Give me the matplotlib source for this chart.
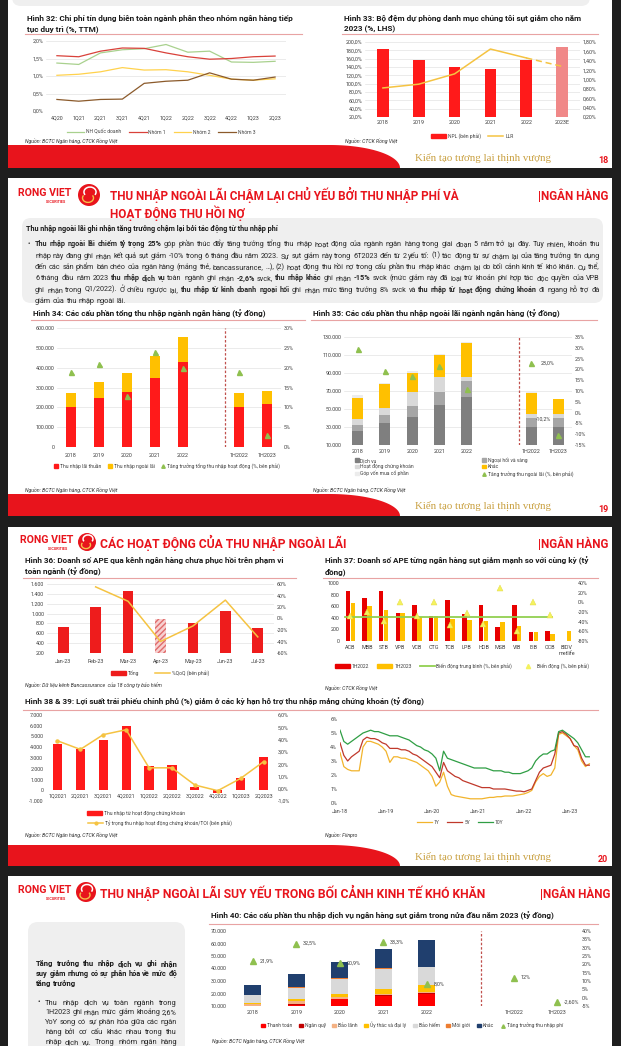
import numpy as np
import matplotlib
matplotlib.use('Agg')
import matplotlib.pyplot as plt
from matplotlib.patches import Rectangle, FancyBboxPatch, Circle, Polygon, Patch, Arc
from matplotlib.lines import Line2D

# ---------------- data ----------------
# Hinh 32
q32 = ['4Q20', '1Q21', '2Q21', '3Q21', '4Q21', '1Q22', '2Q22', '3Q22', '4Q22', '1Q23', '2Q23']
quoc_doanh = [1.37, 1.33, 1.66, 1.75, 1.78, 1.90, 1.68, 1.71, 1.40, 1.39, 1.42]
nhom1 = [1.58, 1.55, 1.71, 1.80, 1.79, 1.66, 1.55, 1.48, 1.50, 1.55, 1.57]
nhom2 = [1.02, 1.05, 1.12, 1.24, 1.17, 1.18, 1.12, 1.02, 0.91, 0.88, 0.92]
nhom3 = [0.33, 0.28, 0.33, 0.34, 0.79, 0.85, 0.88, 1.09, 0.91, 0.88, 0.97]

# Hinh 33
years33 = ['2018', '2019', '2020', '2021', '2022', '2023E']
npl = [184, 156, 141, 136, 157, 187]
llr = [0.82, 0.90, 1.12, 1.65, 1.46, 1.28]

# Hinh 34
cat34 = ['2018', '2019', '2020', '2021', '2022', '1H2022', '1H2023']
lai_thuan = [202000, 247000, 277000, 346000, 428000, 202000, 217000]
ngoai_lai = [69000, 82000, 96000, 114000, 125000, 69000, 64000]
tang_truong_toi = [18.9, 20.9, 12.8, 23.9, 19.9, 18.9, 2.9]

# Hinh 35
dich_vu = [26000, 34000, 41500, 55000, 63000, 30000, 30000]
ngoai_hoi = [6000, 9000, 12000, 13500, 18500, 10500, 10500]
chung_khoan = [6500, 8500, 15500, 17000, 4500, 4500, 4500]
khac = [23500, 26000, 21500, 24000, 37000, 23000, 16000]
gop_von = [4000, 1000, 1500, 2000, 1000, 500, 500]
tang_truong_nl = [29.3, 19.3, 16.8, 21.5, 10.8, 23.0, -10.2]

# Hinh 36
months36 = ['Jan-23', 'Feb-23', 'Mar-23', 'Apr-23', 'May-23', 'Jun-23', 'Jul-23']
ape_tong = [730, 1140, 1465, 887, 800, 1050, 710]
ape_qoq = [np.nan, 55, 30, -40, -13, 32, -32]

# Hinh 37
banks = ['ACB', 'MBB', 'STB', 'VPB', 'VCB', 'CTG', 'TCB', 'LPB', 'HDB', 'MSB', 'VIB', 'EIB', 'OCB', 'BIDV\nmetlife']
ape_1h22 = [870, 750, 870, 490, 620, 430, 710, 460, 620, 250, 620, 150, 170, 0]
ape_1h23 = [650, 610, 540, 490, 410, 430, 380, 355, 345, 320, 260, 150, 120, 170]
bien_dong = [-28, -19, -38, 0, -28, 1, -47, -22, -45, 30, -59, 1, -26, np.nan]
bien_dong_tb = -31

# Hinh 38
q38 = ['1Q2021', '2Q2021', '3Q2021', '4Q2021', '1Q2022', '2Q2022', '3Q2022', '4Q2022', '1Q2023', '2Q2023']
tn_chung_khoan = [4270, 3800, 4700, 6000, 2230, 2390, 340, -280, 1130, 3080]
ty_trong_toi = [3.9, 3.2, 4.4, 4.8, 1.7, 1.7, 0.3, -0.16, 0.84, 2.2]

# Hinh 39 (monthly, Jan-18 .. Jun-23)
ticks39 = ['Jan-18', 'Jan-19', 'Jan-20', 'Jan-21', 'Jan-22', 'Jan-23']
ls_1y = [3.6, 2.6, 2.4, 2.3, 2.3, 2.3, 4.0, 4.4, 4.4, 4.3, 4.2, 4.0,
         3.7, 2.9, 3.3, 3.3, 3.2, 3.2, 3.1, 3.0, 2.9, 2.7, 2.5, 2.3,
         1.9, 1.2, 1.5, 2.2, 1.2, 0.6, 0.5, 0.45, 0.4, 0.35, 0.3, 0.3,
         0.3, 0.3, 0.35, 0.4, 0.4, 0.45, 0.45, 0.5, 0.5, 0.5, 0.55, 0.6,
         0.65, 0.75, 0.9, 1.5, 1.9, 2.1, 1.9, 2.0, 2.5, 4.9, 5.0, 4.8,
         4.6, 4.1, 3.8, 3.0, 2.6, 2.8]
ls_5y = [4.3, 3.4, 3.0, 3.3, 3.5, 3.7, 4.5, 4.7, 4.6, 4.6, 4.5, 4.3,
         4.2, 3.9, 3.9, 3.9, 3.8, 3.8, 3.7, 3.5, 3.4, 3.2, 3.0, 2.8,
         2.6, 2.2, 1.8, 2.9, 2.3, 2.1, 1.9, 1.8, 1.6, 1.5, 1.4, 1.3,
         1.2, 1.1, 1.1, 1.1, 1.0, 1.0, 1.0, 1.0, 0.95, 0.9, 0.85, 0.85,
         0.8, 0.9, 1.0, 1.6, 2.2, 2.5, 2.6, 2.7, 3.5, 5.0, 5.1, 4.9,
         4.6, 4.1, 4.0, 3.2, 2.7, 2.7]
ls_10y = [5.2, 4.4, 4.2, 4.4, 4.6, 4.8, 5.0, 5.1, 5.2, 5.1, 5.1, 5.0,
          4.9, 4.8, 4.8, 4.8, 4.7, 4.6, 4.5, 4.3, 4.1, 4.0, 3.8, 3.7,
          3.5, 3.2, 2.3, 3.7, 3.2, 3.1, 3.0, 2.9, 2.8, 2.7, 2.6, 2.5,
          2.5, 2.5, 2.5, 2.4, 2.3, 2.3, 2.3, 2.2, 2.2, 2.1, 2.1, 2.1,
          2.2, 2.3, 2.5, 3.0, 3.3, 3.5, 3.5, 3.7, 3.8, 5.1, 5.2, 5.0,
          4.8, 4.6, 4.3, 3.8, 3.3, 3.3]

# Hinh 40
cat40 = ['2018', '2019', '2020', '2021', '2022', '1H2022', '1H2023']
thanh_toan = [8000, 11000, 15500, 18000, 19500]
ngan_quy = [1500, 1000, 400, 500, 600]
bao_lanh = [2500, 2000, 1200, 1000, 800]
uy_thac = [300, 1300, 2500, 4400, 5900]
bao_hiem = [6300, 9400, 12300, 16000, 14400]
moi_gioi = [200, 200, 300, 400, 300]
khac40 = [8000, 11000, 13000, 15000, 21000]
tang_truong_phi = [21.9, 32.5, 20.9, 33.3, 8.0, 12.0, -2.6]
nhan_phi = ['21,9%', '32,5%', '20,9%', '33,3%', '8,0%', '12%', '-2,60%']

# ---------------- style ----------------
W, H = 621, 1046
plt.rcParams['font.family'] = ['Roboto', 'DejaVu Sans']

RED = '#e8141c'
BAR_RED = '#ff1a1a'
YEL = '#ffc000'
LINE_YEL = '#f5c342'
GREEN_TRI = '#8fc04f'
GRID = '#dcdcdc'
TXT = '#404040'
TICK = 3.9
LEG = 3.6
TITLE = 5.85
PTITLE = 8.7
LOGO = 7.6

fig = plt.figure(figsize=(W / 100, H / 100), dpi=100)
fig.patch.set_facecolor('#1e1e1e')
bg = fig.add_axes([0, 0, 1, 1])
bg.set_xlim(0, W)
bg.set_ylim(H, 0)
bg.axis('off')


def num(v):
    return f'{v:,.0f}'.replace(',', '.')


def pct(v, d=0):
    return f'{v:.{d}f}%'.replace('.', ',')


def chart_axes(x0, y0, x1, y1, grid=True):
    ax = fig.add_axes([x0 / W, 1 - y1 / H, (x1 - x0) / W, (y1 - y0) / H])
    ax.set_facecolor('none')
    for s in ax.spines.values():
        s.set_visible(False)
    ax.tick_params(length=0, labelsize=TICK, labelcolor=TXT, pad=2)
    if grid:
        ax.grid(axis='y', color=GRID, lw=0.4)
    ax.set_axisbelow(True)
    return ax


def right_axis(ax):
    a2 = ax.twinx()
    for s in a2.spines.values():
        s.set_visible(False)
    a2.tick_params(length=0, labelsize=TICK, labelcolor=TXT, pad=2)
    return a2


def yticks(ax, vals, fmt):
    ax.set_ylim(vals[0], vals[-1])
    ax.set_yticks(vals)
    ax.set_yticklabels([fmt(v) for v in vals])


def legend(handles, labels, x, y, ncol, **kw):
    opts = dict(loc='center', frameon=False, prop={'size': LEG}, handlelength=2.5,
                handletextpad=0.4, columnspacing=1.5, borderpad=0, labelcolor=TXT)
    opts.update(kw)
    fig.legend(handles, labels, bbox_to_anchor=(x / W, 1 - y / H), ncol=ncol, **opts)


def chart_title(x, y, lines, x_line_end, y_line):
    for i, ln in enumerate(lines):
        bg.text(x, y + i * 11, ln, fontsize=TITLE, fontweight='bold', color='#1a1a1a', va='center')
    bg.plot([x - 2, x_line_end], [y_line, y_line], color='#e8a3a3', lw=0.8)


def source(x, y, txt):
    bg.text(x, y, txt, fontsize=3.7, style='italic', color='#333333', va='center')


def text_line(x0, x1, y, parts, size, justify=True, color='#262626'):
    # draws one line word by word on a common baseline, justified between x0 and x1
    r = fig.canvas.get_renderer()
    base = y + size * 1.389 * 0.34
    arts = []
    for txt, b in parts:
        for w in txt.split():
            arts.append(bg.text(0, base, w, fontsize=size, fontweight='bold' if b else 'normal',
                                va='baseline', ha='left', color=color))
    widths = [t.get_window_extent(renderer=r).width for t in arts]
    space = size * 1.389 * 0.25
    total = sum(widths) + space * (len(arts) - 1)
    if total > x1 - x0:
        k = (x1 - x0) / total
        for t in arts:
            t.set_fontsize(size * k)
        widths = [w * k for w in widths]
        space *= k
    gap = space
    if justify and len(arts) > 1:
        gap = (x1 - x0 - sum(widths)) / (len(arts) - 1)
    x = x0
    for t, w in zip(arts, widths):
        t.set_x(x)
        x += w + gap


def footer(ytop, ybot, page):
    t = np.linspace(0, np.pi / 2, 40)
    xs = [8, 8] + list(330 + 70 * np.sin(t))
    ys = [ybot, ytop] + list(ytop + (ybot - ytop) * (1 - np.cos(t)))
    bg.add_patch(Polygon(np.column_stack([xs, ys]), closed=True, color=RED, lw=0))
    bg.text(415, (ytop + ybot) / 2 + 1, 'Kiến tạo tương lai thịnh vượng', fontsize=7.8,
            family=['Liberation Serif', 'DejaVu Serif'], color='#c9a040', va='center')
    bg.text(598, (ytop + ybot) / 2 + 4, page, fontsize=6.5, fontweight='bold', color=RED, va='center')


def logo(x, y, r, dx=70):
    bg.text(x, y, 'RONG VIET', fontsize=LOGO, fontweight='bold', color=RED, va='center')
    bg.text(x + 28, y + 9, 'SECURITIES', fontsize=2.7, fontweight='bold', color=RED, va='center')
    cx = x + dx
    bg.add_patch(Circle((cx, y + 2), r, color=RED, lw=0))
    bg.add_patch(Arc((cx + 1, y - 1), r * 1.1, r * 0.9, theta1=150, theta2=390, color='white', lw=1.1))
    bg.add_patch(Arc((cx - 1, y + 5), r * 1.0, r * 0.8, theta1=-30, theta2=210, color='#f4c04a', lw=1.0))


def ngan_hang(x, y):
    bg.text(x, y, '|NGÂN HÀNG', fontsize=8.4, fontweight='bold', color=RED, va='center')


# ---------------- pages ----------------
for top, bot in [(-5, 168), (178, 516), (527, 866), (876, 1060)]:
    bg.add_patch(Rectangle((8, top), 604, bot - top, color='white', lw=0))
bg.add_patch(FancyBboxPatch((12, -30), 578, 36, boxstyle='round,pad=0,rounding_size=9',
                            color='#efefef', lw=0))
footer(145, 168, '18')
footer(494, 516, '19')
footer(845, 866, '20')

# page 19 header
logo(18, 193, 11, 71)
bg.text(110, 195, 'THU NHẬP NGOÀI LÃI CHẬM LẠI CHỦ YẾU BỞI THU NHẬP PHÍ VÀ', fontsize=8.5,
        fontweight='bold', color=RED, va='center')
bg.text(110, 213, 'HOẠT ĐỘNG THU HỒI NỢ', fontsize=8.5, fontweight='bold', color=RED, va='center')
ngan_hang(538, 196)
bg.add_patch(FancyBboxPatch((22, 218), 581, 85, boxstyle='round,pad=0,rounding_size=9',
                            color='#efefef', lw=0))
bg.text(26, 229, 'Thu nhập ngoài lãi ghi nhận tăng trưởng chậm lại bởi tác động từ thu nhập phí',
        fontsize=5.2, fontweight='bold', color='#1a1a1a', va='center')
bg.text(27, 244, '•', fontsize=5.0, color='#262626', va='center')
para = [
    [('Thu nhập ngoài lãi chiếm tỷ trọng 25%', True),
     (' góp phần thúc đẩy tăng trưởng tổng thu nhập hoạt động của ngành ngân hàng trong giai đoạn 5 năm trở lại đây. Tuy nhiên, khoản thu', False)],
    [('nhập này đang ghi nhận kết quả sụt giảm -10% trong 6 tháng đầu năm 2023. Sự sụt giảm này trong 6T2023 đến từ 2 yếu tố: (1) tác động từ sự chậm lại của tăng trưởng tín dụng', False)],
    [('đến các sản phẩm bán chéo của ngân hàng (mảng thẻ, bancassurance, …), (2) hoạt động thu hồi nợ trong cấu phần thu nhập khác chậm lại do bối cảnh kinh tế khó khăn. Cụ thể,', False)],
    [('6 tháng đầu năm 2023', False), ('thu nhập dịch vụ', True), ('toàn ngành ghi nhận', False), ('-2,6%', True),
     ('svck,', False), ('thu nhập khác', True), ('ghi nhận', False), ('-15%', True),
     ('svck (mức giảm này đã loại trừ khoản phí hợp tác độc quyền của VPB', False)],
    [('ghi nhận trong Q1/2022). Ở chiều ngược lại,', False), ('thu nhập từ kinh doanh ngoại hối', True),
     ('ghi nhận mức tăng trưởng 8% svck và', False), ('thu nhập từ hoạt động chứng khoán', True),
     ('đi ngang hỗ trợ đà', False)],
    [('giảm của thu nhập ngoài lãi.', False)],
]
for i, parts in enumerate(para):
    text_line(35, 600, 244 + i * 11.3, parts, 5.2, justify=i < len(para) - 1)

# page 20 header
logo(20, 540, 9, 67)
bg.text(100, 543, 'CÁC HOẠT ĐỘNG CỦA THU NHẬP NGOÀI LÃI', fontsize=PTITLE,
        fontweight='bold', color=RED, va='center')
ngan_hang(538, 544)

# page 21 header
logo(18, 890, 10, 68)
bg.text(100, 893, 'THU NHẬP NGOÀI LÃI SUY YẾU TRONG BỐI CẢNH KINH TẾ KHÓ KHĂN', fontsize=PTITLE,
        fontweight='bold', color=RED, va='center')
ngan_hang(540, 894)
bg.add_patch(FancyBboxPatch((28, 922), 157, 160, boxstyle='round,pad=0,rounding_size=10',
                            color='#efefef', lw=0))
side_bold = ['Tăng trưởng thu nhập dịch vụ ghi nhận', 'suy giảm nhưng có sự phân hóa về mức độ', 'tăng trưởng']
for i, ln in enumerate(side_bold):
    text_line(36, 177, 963 + i * 10, [(ln, True)], 5.5, justify=i < 2, color='#1a1a1a')
side_text = ['Thu nhập dịch vụ toàn ngành trong', '1H2023 ghi nhận mức giảm khoảng 2,6%',
             'YoY song có sự phân hóa giữa các ngân', 'hàng bởi cơ cấu khác nhau trong thu',
             'nhập dịch vụ. Trong nhóm ngân hàng']
bg.text(38, 1002, '•', fontsize=5.4, color='#262626', va='center')
for i, ln in enumerate(side_text):
    text_line(45, 177, 1002 + i * 9.8, [(ln, False)], 5.4)

# ---------------- Hinh 32 ----------------
chart_title(27, 18, ['Hình 32: Chi phí tín dụng biên toàn ngành phân theo nhóm ngân hàng tiếp',
                     'tục duy trì (%, TTM)'], 302, 34)
ax = chart_axes(46, 41, 286, 111)
x = np.arange(len(q32))
series32 = [(quoc_doanh, '#a9d18e', 'NH Quốc doanh'), (nhom1, '#d9413a', 'Nhóm 1'),
            (nhom2, '#ffd24d', 'Nhóm 2'), (nhom3, '#8b5a2b', 'Nhóm 3')]
hs = []
for vals, col, lab in series32:
    hs.append(ax.plot(x, vals, color=col, lw=0.9)[0])
ax.set_xlim(-0.5, len(q32) - 0.5)
yticks(ax, [0, 0.5, 1.0, 1.5, 2.0], lambda v: pct(v, 1))
ax.set_xticks(x)
ax.set_xticklabels(q32)
ax.tick_params(axis='x', pad=3.2)
legend(hs, [s[2] for s in series32], 161, 132, 4, handlelength=3.5)
source(25, 141, 'Nguồn: BCTC Ngân hàng, CTCK Rồng Việt')

# ---------------- Hinh 33 ----------------
chart_title(344, 18, ['Hình 33: Bộ đệm dự phòng danh mục chúng tôi sụt giảm cho năm',
                      '2023 (%, LHS)'], 598, 34)
ax = chart_axes(365, 42, 580, 117)
x = np.arange(len(years33))
cols33 = [BAR_RED] * (len(years33) - 1) + ['#f08888']
ax.bar(x, npl, width=0.33, color=cols33)
ax.set_xlim(-0.5, len(years33) - 0.5)
yticks(ax, list(range(20, 201, 20)), lambda v: pct(v, 1))
ax.set_xticks(x)
ax.set_xticklabels(years33)
ax.tick_params(axis='x', pad=1.8)
a2 = right_axis(ax)
a2.plot(x[:-1], llr[:-1], color=LINE_YEL, lw=1.1)
a2.plot(x[-2:], llr[-2:], color=LINE_YEL, lw=1.1, ls=(0, (4, 2.5)))
yticks(a2, [0.2, 0.4, 0.6, 0.8, 1.0, 1.2, 1.4, 1.6, 1.8], lambda v: pct(v, 2))
legend([Patch(color=BAR_RED), Line2D([], [], color=LINE_YEL, lw=1.1)], ['NPL (bên phải)', 'LLR'],
       472, 136, 2, handlelength=3)
source(345, 141, 'Nguồn: CTCK Rồng Việt')

# ---------------- Hinh 34 ----------------
chart_title(33, 314, ['Hình 34: Các cấu phần tổng thu nhập ngành ngân hàng (tỷ đồng)'], 305, 320)
ax = chart_axes(57, 328, 281, 447)
pos34 = np.r_[np.arange(5), 4 + np.arange(1, 3) + 1.0]
ax.bar(pos34, lai_thuan, width=0.33, color=BAR_RED)
ax.bar(pos34, ngoai_lai, width=0.33, bottom=lai_thuan, color=YEL)
ax.axvline(4.5 + 1.0, color='#c0504d', lw=0.9, ls=(0, (2, 1.5)))
ax.set_xlim(-0.5, pos34[-1] + 0.5)
yticks(ax, list(range(0, 600001, 100000)), num)
ax.set_xticks(pos34)
ax.set_xticklabels(cat34)
ax.tick_params(axis='x', pad=4)
a2 = right_axis(ax)
a2.plot(pos34, tang_truong_toi, ls='none', marker='^', ms=3.6, color=GREEN_TRI)
yticks(a2, list(range(0, 31, 5)), pct)
legend([Patch(color=BAR_RED), Patch(color=YEL), Line2D([], [], ls='none', marker='^', ms=2.5, color=GREEN_TRI)],
       ['Thu nhập lãi thuần', 'Thu nhập ngoài lãi', 'Tăng trưởng tổng thu nhập hoạt động (%, bên phải)'],
       167, 466, 3, handlelength=0.8, columnspacing=1.2)
source(25, 490, 'Nguồn: BCTC Ngân hàng, CTCK Rồng Việt')

# ---------------- Hinh 35 ----------------
chart_title(313, 314, ['Hình 35: Các cấu phần thu nhập ngoài lãi ngành ngân hàng (tỷ đồng)'], 597, 320)
ax = chart_axes(344, 337, 572, 445)
pos35 = np.r_[np.arange(5), 4 + np.arange(1, 3) + 1.37]
stack35 = [(dich_vu, '#7f7f7f', 'Dịch vụ'), (ngoai_hoi, '#a6a6a6', 'Ngoại hối và vàng'),
           (chung_khoan, '#d9d9d9', 'Hoạt động chứng khoán'), (khac, YEL, 'Khác'),
           (gop_von, '#ececec', 'Góp vốn mua cổ phần')]
bottom = np.zeros(len(pos35))
for vals, col, lab in stack35:
    ax.bar(pos35, vals, width=0.4, bottom=bottom, color=col)
    bottom += np.array(vals)
ax.axvline(5.93, color='#c0504d', lw=0.9, ls=(0, (2, 1.5)))
ax.set_xlim(-0.5, pos35[-1] + 0.5)
yticks(ax, list(range(10000, 130001, 20000)), num)
ax.set_xticks(pos35)
ax.set_xticklabels(cat34)
ax.tick_params(axis='x', pad=3)
a2 = right_axis(ax)
a2.plot(pos35, tang_truong_nl, ls='none', marker='^', ms=3.6, color=GREEN_TRI)
yticks(a2, list(range(-15, 36, 5)), pct)
a2.annotate(pct(tang_truong_nl[5], 1), (pos35[5], tang_truong_nl[5]), xytext=(7, 0),
            textcoords='offset points', fontsize=TICK, color=TXT, va='center')
a2.annotate(pct(tang_truong_nl[6], 1), (pos35[6], tang_truong_nl[6]), xytext=(-11, 11.5),
            textcoords='offset points', fontsize=TICK, color=TXT, va='center', ha='center')
tri = Line2D([], [], ls='none', marker='^', ms=2.5, color=GREEN_TRI)
h35 = [Patch(color=stack35[0][1]), Patch(color=stack35[2][1]), Patch(color=stack35[4][1]),
       Patch(color=stack35[1][1]), Patch(color=stack35[3][1]), tri]
l35 = [stack35[0][2], stack35[2][2], stack35[4][2], stack35[1][2], stack35[3][2],
       'Tăng trưởng thu ngoài lãi (%, bên phải)']
legend(h35, l35, 352, 467, 2, loc='center left', handlelength=0.8, columnspacing=13.5,
       labelspacing=0.3)
source(313, 490, 'Nguồn: BCTC Ngân hàng, CTCK Rồng Việt')

# ---------------- Hinh 36 ----------------
chart_title(25, 561, ['Hình 36: Doanh số APE qua kênh ngân hàng chưa phục hồi trên phạm vi',
                      'toàn ngành (tỷ đồng)'], 296, 578)
ax = chart_axes(47, 584, 274, 653)
x = np.arange(len(months36))
bars = ax.bar(x, ape_tong, width=0.33, color='#ee1c1c')
bars[3].set_facecolor('#f7d0d0')
bars[3].set_edgecolor('#e06b6b')
bars[3].set_hatch('//////')
bars[3].set_linewidth(0)
ax.set_xlim(-0.5, len(months36) - 0.5)
yticks(ax, list(range(200, 1601, 200)), num)
ax.set_xticks(x)
ax.set_xticklabels(months36)
ax.tick_params(axis='x', pad=4)
a2 = right_axis(ax)
a2.plot(x, ape_qoq, color=LINE_YEL, lw=1.1)
yticks(a2, list(range(-60, 61, 20)), pct)
legend([Patch(color='#ee1c1c'), Line2D([], [], color=LINE_YEL, lw=1.1)], ['Tổng', '%QoQ (bên phải)'],
       160, 673, 2, handlelength=3, columnspacing=3)
source(25, 685, 'Nguồn: Dữ liệu kênh Bancassurance  của 18 công ty bảo hiểm')

# ---------------- Hinh 37 ----------------
chart_title(325, 561, ['Hình 37: Doanh số APE từng ngân hàng sụt giảm mạnh so với cùng kỳ (tỷ',
                       'đồng)'], 598, 578)
ax = chart_axes(342, 583, 575, 641, grid=False)
x = np.arange(len(banks))
ax.bar(x - 0.15, ape_1h22, width=0.27, color='#e80000')
ax.bar(x + 0.15, ape_1h23, width=0.27, color=YEL)
ax.set_xlim(-0.5, len(banks) - 0.5)
yticks(ax, list(range(0, 1001, 200)), lambda v: f'{v:.0f}')
ax.set_xticks(x)
ax.set_xticklabels(banks, linespacing=1.1, va='top')
ax.tick_params(axis='x', pad=3.2)
a2 = right_axis(ax)
avg_x = [x[0] - 0.3, x[-2] + 0.1]
a2.plot(avg_x, [bien_dong_tb] * 2, color='#92d050', lw=1.3)
a2.plot(x, bien_dong, ls='none', marker='^', ms=4.6, color='#f4f25e', mec='#e2d843', mew=0.3)
yticks(a2, list(range(-80, 41, 20)), pct)
legend([Patch(color='#e80000'), Patch(color=YEL), Line2D([], [], color='#92d050', lw=1.3),
        Line2D([], [], ls='none', marker='^', ms=3, color='#f4f25e')],
       ['1H2022', '1H2023', 'Biến động trung bình (%, bên phải)', 'Biến động (%, bên phải)'],
       462, 666, 4, handlelength=3, columnspacing=1.6)
source(325, 688, 'Nguồn: CTCK Rồng Việt')

# ---------------- Hinh 38 ----------------
chart_title(25, 702, ['Hình 38 & 39: Lợi suất trái phiếu chính phủ (%) giảm ở các kỳ hạn hỗ trợ thu nhập mảng chứng khoán (tỷ đồng)'],
            598, 710)
ax = chart_axes(46, 715, 275, 801, grid=False)
x = np.arange(len(q38))
ax.bar(x, tn_chung_khoan, width=0.4, color=BAR_RED)
ax.set_xlim(-0.5, len(q38) - 0.5)
yticks(ax, list(range(-1000, 7001, 1000)), num)
ax.set_xticks([])
for i, lab in enumerate(q38):
    ax.text(x[i], -560, lab, ha='center', va='center', fontsize=TICK, color=TXT)
a2 = right_axis(ax)
a2.plot(x, ty_trong_toi, color=LINE_YEL, lw=1.1, marker='o', ms=2.2)
yticks(a2, list(range(-1, 7)), lambda v: pct(v, 1))
legend([Patch(color=BAR_RED)], ['Thu nhập từ hoạt động chứng khoán'], 136, 813, 1, handlelength=3)
legend([Line2D([], [], color=LINE_YEL, lw=1.1, marker='o', ms=2)],
       ['Tỷ trọng thu nhập hoạt động chứng khoán/TOI (bên phải)'], 160, 823, 1, handlelength=3)
source(25, 835, 'Nguồn: BCTC Ngân hàng, CTCK Rồng Việt')

# ---------------- Hinh 39 ----------------
ax = chart_axes(340, 719, 592, 803, grid=False)
x = np.arange(len(ls_10y))
for vals, col, lab in [(ls_1y, '#f2b42c', '1Y'), (ls_5y, '#c0392b', '5Y'), (ls_10y, '#2f9e44', '10Y')]:
    ax.plot(x, vals, color=col, lw=0.9, label=lab)
ax.set_xlim(0, len(ls_10y) - 0.3)
yticks(ax, list(range(0, 7)), pct)
ax.set_xticks(np.arange(len(ticks39)) * 12)
ax.set_xticklabels(ticks39)
ax.tick_params(axis='x', pad=4.5)
ax.axhline(0, color='#d9d9d9', lw=0.5)
h39, l39 = ax.get_legend_handles_labels()
legend(h39, l39, 460, 822, 3, handlelength=3)
source(325, 835, 'Nguồn: Fiinpro')

# ---------------- Hinh 40 ----------------
chart_title(211, 916, ['Hình 40: Các cấu phần thu nhập dịch vụ ngân hàng sụt giảm trong nửa đầu năm 2023 (tỷ đồng)'],
            598, 924)
ax = chart_axes(231, 931, 579, 1006, grid=False)
pos40 = np.r_[np.arange(5), 4 + np.arange(1, 3) + 1.0]
stack40 = [(thanh_toan, '#ff0000', 'Thanh toán'), (ngan_quy, '#c00000', 'Ngân quỹ'),
           (bao_lanh, '#f4b183', 'Bảo lãnh'), (uy_thac, YEL, 'Ủy thác và đại lý'),
           (bao_hiem, '#d9d9d9', 'Bảo hiểm'), (moi_gioi, '#ed7d31', 'Môi giới'),
           (khac40, '#203f6e', 'Khác')]
bottom = np.zeros(len(thanh_toan))
for vals, col, lab in stack40:
    ax.bar(pos40[:len(vals)], vals, width=0.4, bottom=bottom, color=col)
    bottom += np.array(vals)
ax.axvline(5.24, color='#c0504d', lw=0.9, ls=(0, (2, 1.5)))
ax.set_xlim(-0.5, pos40[-1] + 0.5)
yticks(ax, list(range(10000, 70001, 10000)), num)
ax.set_xticks(pos40)
ax.set_xticklabels(cat40)
ax.tick_params(axis='x', pad=3.2)
ax.tick_params(axis='y', pad=3)
a2 = right_axis(ax)
a2.plot(pos40, tang_truong_phi, ls='none', marker='^', ms=3.8, color=GREEN_TRI)
for p, v, s in zip(pos40, tang_truong_phi, nhan_phi):
    a2.annotate(s, (p, v), xytext=(5, 0), textcoords='offset points', fontsize=TICK, color=TXT, va='center')
yticks(a2, list(range(-5, 41, 5)), pct)
h40 = [Patch(color=c) for _, c, _ in stack40] + [Line2D([], [], ls='none', marker='^', ms=2.5, color=GREEN_TRI)]
l40 = [lab for _, _, lab in stack40] + ['Tăng trưởng thu nhập phí']
legend(h40, l40, 412, 1025, 8, handlelength=0.8, columnspacing=1.3)
source(212, 1041, 'Nguồn: BCTC Ngân hàng, CTCK Rồng Việt')

fig.savefig('out.png', dpi=100, facecolor=fig.get_facecolor())
